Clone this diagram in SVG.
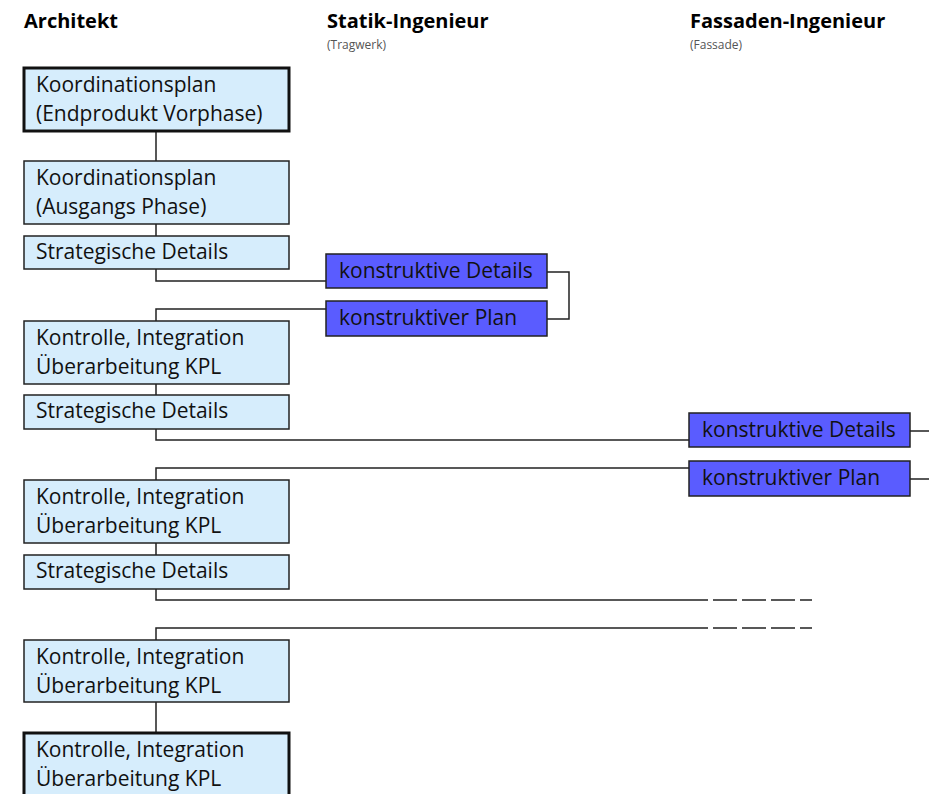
<svg xmlns="http://www.w3.org/2000/svg" width="929" height="794" viewBox="0 0 929 794">
<style>
.hd{font-family:"Open Sans","Noto Sans",sans-serif;font-weight:bold;font-size:20px;fill:#000}
.sub{font-family:"Open Sans","Noto Sans",sans-serif;font-size:12px;fill:#555}
.t{font-family:"Open Sans","Noto Sans",sans-serif;font-size:21px;fill:#111}
.a{fill:#d6edfc;stroke:#222;stroke-width:1.5}
.a3{fill:#d6edfc;stroke:#111;stroke-width:3}
.b{fill:#5a5cff;stroke:#222;stroke-width:1.5}
.c{fill:none;stroke:#222;stroke-width:1.5}
</style>
<rect width="929" height="794" fill="#fff"/>
<g id="headers">
<text class="hd" x="24" y="28">Architekt</text>
<text class="hd" x="327" y="28">Statik-Ingenieur</text>
<text class="sub" x="327" y="49">(Tragwerk)</text>
<text class="hd" x="690" y="28">Fassaden-Ingenieur</text>
<text class="sub" x="690" y="49">(Fassade)</text>
</g>
<g id="connectors">
<path class="c" d="M156 131V161M156 224V236M156 269V281H326M326 309H156V321M547 272H569V319H547"/>
<path class="c" d="M156 384V395M156 429V440H689M689 468H156V480M910 431H929M910 479H929"/>
<path class="c" d="M156 543V555M156 589V600H708M708 628H156V640M156 702V733"/>
<path class="c" d="M713 600H812M713 628H812" stroke-dasharray="24 5"/>
</g>
<g id="n1"><rect class="a3" x="24" y="68" width="265" height="63"/><text class="t" x="36" y="92">Koordinationsplan</text><text class="t" x="36" y="121">(Endprodukt Vorphase)</text></g>
<g id="n2"><rect class="a" x="24" y="161" width="265" height="63"/><text class="t" x="36" y="185">Koordinationsplan</text><text class="t" x="36" y="214">(Ausgangs Phase)</text></g>
<g id="n3"><rect class="a" x="24" y="236" width="265" height="33"/><text class="t" x="36" y="259">Strategische Details</text></g>
<g id="s1"><rect class="b" x="326" y="254" width="221" height="34"/><text class="t" x="339" y="278">konstruktive Details</text></g>
<g id="s2"><rect class="b" x="326" y="301" width="221" height="35"/><text class="t" x="339" y="325">konstruktiver Plan</text></g>
<g id="n4"><rect class="a" x="24" y="321" width="265" height="63"/><text class="t" x="36" y="345">Kontrolle, Integration</text><text class="t" x="36" y="374">Überarbeitung KPL</text></g>
<g id="n5"><rect class="a" x="24" y="395" width="265" height="34"/><text class="t" x="36" y="418">Strategische Details</text></g>
<g id="f1"><rect class="b" x="689" y="413" width="221" height="34"/><text class="t" x="702" y="437">konstruktive Details</text></g>
<g id="f2"><rect class="b" x="689" y="461" width="221" height="35"/><text class="t" x="702" y="485">konstruktiver Plan</text></g>
<g id="n6"><rect class="a" x="24" y="480" width="265" height="63"/><text class="t" x="36" y="504">Kontrolle, Integration</text><text class="t" x="36" y="533">Überarbeitung KPL</text></g>
<g id="n7"><rect class="a" x="24" y="555" width="265" height="34"/><text class="t" x="36" y="578">Strategische Details</text></g>
<g id="n8"><rect class="a" x="24" y="640" width="265" height="62"/><text class="t" x="36" y="664">Kontrolle, Integration</text><text class="t" x="36" y="693">Überarbeitung KPL</text></g>
<g id="n9"><rect class="a3" x="24" y="733" width="265" height="70"/><text class="t" x="36" y="757">Kontrolle, Integration</text><text class="t" x="36" y="786">Überarbeitung KPL</text></g>
</svg>
